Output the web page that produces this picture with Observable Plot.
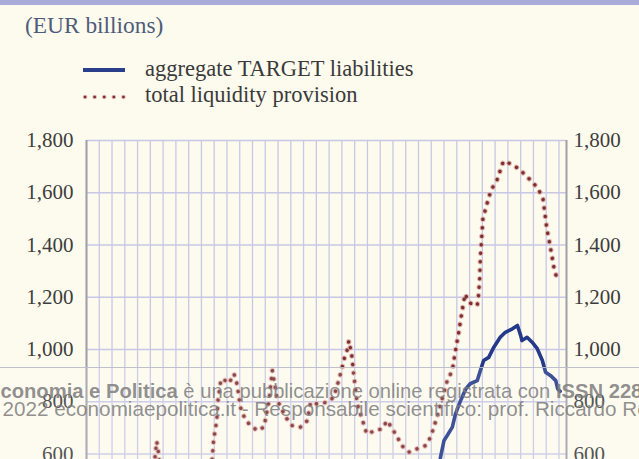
<!DOCTYPE html>
<html><head><meta charset="utf-8">
<script src="https://cdn.jsdelivr.net/npm/d3@7"></script>
<script src="https://cdn.jsdelivr.net/npm/@observablehq/plot@0.6"></script>
<style>
html,body{margin:0;padding:0;}
body{width:639px;height:459px;overflow:hidden;background:#fdfbee;position:relative;font-family:"Liberation Serif",serif;}
#band{position:absolute;left:0;top:0;width:639px;height:5px;background:#a9acd9;}
#title{position:absolute;left:25px;top:14px;font-size:23.4px;line-height:23px;color:#4f5b7a;white-space:nowrap;}
.leg{position:absolute;left:145px;font-size:22.5px;line-height:22px;color:#3a3a3a;white-space:nowrap;}
#legsvg{position:absolute;left:0;top:0;}
#chart{position:absolute;left:0;top:120px;}
#wm{position:absolute;left:0;top:367px;width:639px;height:92px;border-top:1px solid rgba(185,185,200,0.9);background:rgba(255,255,255,0.12);z-index:5;}
.wl{position:absolute;font-family:"Liberation Sans",Arial,sans-serif;line-height:18px;color:rgba(125,125,125,0.85);white-space:nowrap;}
.wl b{font-weight:bold;}
</style>
</head><body>
<div id="band"></div>
<div id="title">(EUR billions)</div>
<svg id="legsvg" width="639" height="120">
  <line x1="83" x2="125" y1="70" y2="70" stroke="#2a3f8c" stroke-width="4"/>
  <line x1="85" x2="125" y1="97" y2="97" stroke="#e2b4b0" stroke-width="4.5" stroke-dasharray="0.1 9.5" stroke-linecap="round"/>
  <line x1="85" x2="125" y1="97" y2="97" stroke="#7a3030" stroke-width="2.6" stroke-dasharray="0.1 9.5" stroke-linecap="round"/>
</svg>
<div class="leg" style="top:58px">aggregate TARGET liabilities</div>
<div class="leg" style="top:84px">total liquidity provision</div>
<div id="chart"></div>
<div id="wm">
  <div class="wl" style="left:-13px;top:14px;font-size:20.2px"><b>Economia e Politica</b> è una pubblicazione online registrata con <b>ISSN 2281-2199</b></div>
  <div class="wl" style="left:-18.5px;top:32px;font-size:20.7px">© 2022 economiaepolitica.it - Responsabile scientifico: prof. Riccardo Realfonzo</div>
</div>
<script>
// months index (0 = first grid line, grid every 2 months)
const redMonths = [0,2,4,6,8,10,10.6,11.0,11.3,11.6,12,14,16,18,19.3,19.7,19.9,20.4,20.6,21.0,21.3,22.3,23.1,23.6,24.1,24.6,25.4,26.7,27.8,28.6,29.1,29.9,31.2,32.2,33.5,34.6,35.1,36.1,37.7,38.7,39.5,40.0,40.3,40.8,41.1,41.3,41.6,41.9,42.1,42.4,43.4,43.9,45.3,46.3,47.1,47.9,48.7,49.4,50.5,51.8,53.1,53.9,54.4,54.9,56.5,57.3,57.8,58.3,58.8,59.3,59.9,61.2,61.4,61.6,61.7,61.9,62.1,62.6,63.0,63.5,64.3,64.8,65.3,66.4,67.7,68.8,69.9,70.8,71.5,71.7,72.1,72.7,73.2,73.6];
const redValues = [455,450,462,470,475,480,560,648,600,520,470,460,470,500,540,583,652,728,805,875,889,870,907,866,780,747,717,690,703,805,920,805,741,709,703,728,798,792,798,817,881,926,961,996,1034,1009,970,894,856,792,716,677,690,696,728,696,664,632,607,620,632,664,703,741,881,920,996,1066,1143,1213,1179,1168,1207,1277,1353,1430,1506,1545,1583,1615,1650,1685,1721,1711,1692,1666,1640,1612,1577,1539,1462,1385,1315,1279];
const blueMonths = [54.6,55.4,56.0,56.5,57.3,57.8,58.6,59.4,60.1,61.2,61.7,62.2,63.0,63.8,64.8,65.6,66.7,67.5,68.0,68.2,69.0,69.8,70.6,71.4,71.9,72.7,73.5,73.8,74.2];
const blueValues = [500,582,652,671,703,754,805,849,869,881,920,958,970,1009,1047,1066,1079,1092,1054,1034,1047,1028,1003,958,913,900,881,849,840];
const yTicks = [600,800,1000,1200,1400,1600,1800];
const xDomain = [0, 75.18];
const gridMonths = d3.range(0, 76, 2);

const red = redMonths.map((m, i) => ({m, v: redValues[i]}));
const blue = blueMonths.map((m, i) => ({m, v: blueValues[i]}));
const fmt = d3.format(",d");

const chart = Plot.plot({
  width: 639, height: 339,
  marginLeft: 86, marginRight: 73, marginTop: 20, marginBottom: 0,
  x: {domain: xDomain, axis: null},
  y: {domain: [579, 1800]},
  style: {background: "transparent", fontFamily: "Liberation Serif", fontSize: "21px", color: "#3d3d3d"},
  marks: [
    Plot.gridX(gridMonths, {stroke: "#c8c8e6", strokeOpacity: 1, strokeWidth: 1.3}),
    Plot.gridY(yTicks, {stroke: "#c8c8e6", strokeOpacity: 1, strokeWidth: 1.3}),
    Plot.ruleX(xDomain, {stroke: "#a0a0a8", strokeWidth: 2}),
    Plot.axisY(yTicks, {anchor: "left", tickSize: 0, tickPadding: 13, tickFormat: fmt, label: null, fill: "#3d3d3d"}),
    Plot.axisY(yTicks, {anchor: "right", tickSize: 0, tickPadding: 7, tickFormat: fmt, label: null, fill: "#3d3d3d"}),
    Plot.line(red, {x: "m", y: "v", stroke: "#e2b4b0", strokeWidth: 5.5, strokeDasharray: "0.1 8.4", strokeLinecap: "round", clip: true}),
    Plot.line(red, {x: "m", y: "v", stroke: "#7a3030", strokeWidth: 3.4, strokeDasharray: "0.1 8.4", strokeLinecap: "round", clip: true}),
    Plot.line(blue, {x: "m", y: "v", stroke: "#24398a", strokeWidth: 3.6, strokeLinejoin: "round", clip: true})
  ]
});
document.getElementById("chart").appendChild(chart);
</script>
</body></html>
